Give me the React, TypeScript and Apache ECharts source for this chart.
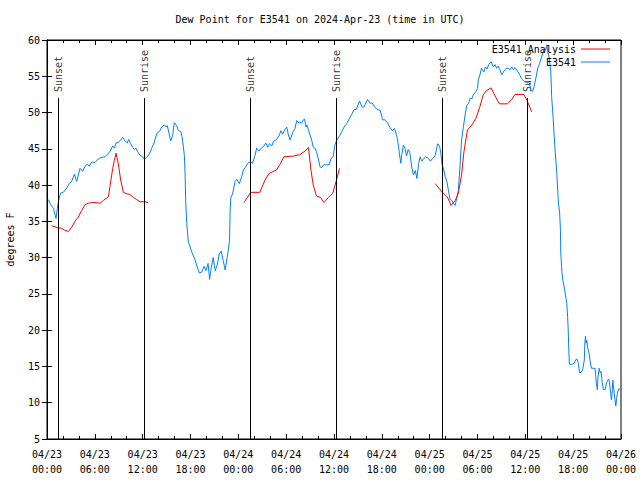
import React, { useEffect, useRef } from "react";
import * as echarts from "echarts";

const FONT = '"DejaVu Sans Mono", "Liberation Mono", monospace';

const titleText = "Dew Point for E3541 on 2024-Apr-23 (time in UTC)";
const xTickLabels = [
  "04/23\n00:00", "04/23\n06:00", "04/23\n12:00", "04/23\n18:00",
  "04/24\n00:00", "04/24\n06:00", "04/24\n12:00", "04/24\n18:00",
  "04/25\n00:00", "04/25\n06:00", "04/25\n12:00", "04/25\n18:00",
  "04/26\n00:00",
];

// hours since 2024-04-23 00:00 UTC
const obsHours = [
  0.16, 0.46, 0.8, 1.13, 1.3, 1.46, 1.7, 2.05, 2.47, 2.8, 3.1, 3.43, 3.72, 4.14, 4.48, 4.77, 5.06, 5.3, 5.6, 6.0,
  6.44, 6.73, 7.28, 7.7, 7.9, 8.24, 8.45, 8.66, 8.94, 9.24, 9.5, 9.78, 10.07, 10.24, 10.5, 10.75, 10.95, 11.16, 11.37, 11.67,
  12.0, 12.2, 12.5, 12.84, 13.14, 13.43, 13.76, 14.1, 14.4, 14.7, 14.94, 15.1, 15.35, 15.52, 15.77, 15.97, 16.26, 16.48, 16.77, 16.94,
  17.1, 17.23, 17.32, 17.4, 17.53, 17.73, 18.15, 18.57, 18.9, 19.1, 19.4, 19.7, 19.95, 20.2, 20.4, 20.6, 20.85, 21.1, 21.35, 21.6,
  21.85, 22.1, 22.35, 22.6, 22.75, 22.9, 22.96, 23.05, 23.3, 23.59, 23.8, 24.13, 24.43, 24.64, 24.97, 25.26, 25.5, 25.77, 26.1, 26.3,
  26.6, 26.9, 27.14, 27.44, 27.7, 27.9, 28.2, 28.4, 28.8, 29.15, 29.36, 29.56, 29.86, 30.07, 30.28, 30.5, 30.8, 31.1, 31.33, 31.5,
  31.7, 31.9, 32.16, 32.3, 32.5, 32.6, 32.8, 33.0, 33.2, 33.4, 33.6, 33.8, 34.04, 34.25, 34.46, 34.7, 35.1, 35.4, 35.64, 35.9,
  36.1, 36.35, 36.7, 37.0, 37.26, 37.6, 37.9, 38.2, 38.5, 38.8, 39.2, 39.5, 39.7, 39.9, 40.2, 40.5, 40.8, 41.1, 41.4, 41.8,
  42.1, 42.4, 42.7, 43.0, 43.3, 43.6, 43.95, 44.2, 44.38, 44.5, 44.7, 44.9, 45.1, 45.3, 45.5, 45.75, 45.96, 46.2, 46.4, 46.6,
  46.8, 47.0, 47.3, 47.5, 47.8, 48.1, 48.4, 48.7, 49.0, 49.24, 49.4, 49.56, 49.7, 49.94, 50.16, 50.35, 50.56, 50.78, 51.0, 51.2,
  51.4, 51.6, 51.8, 52.0, 52.24, 52.45, 52.66, 52.9, 53.07, 53.3, 53.5, 53.8, 54.0, 54.1, 54.3, 54.5, 54.8, 55.0, 55.2, 55.4,
  55.7, 56.0, 56.2, 56.4, 56.6, 56.8, 57.05, 57.3, 57.6, 57.9, 58.1, 58.3, 58.5, 58.7, 59.0, 59.3, 59.5, 59.85, 60.2, 60.5,
  60.7, 60.9, 61.1, 61.35, 61.55, 61.8, 62.0, 62.2, 62.35, 62.55, 62.7, 62.8, 63.0, 63.2, 63.3, 63.5, 63.7, 63.95, 64.15, 64.3,
  64.4, 64.45, 64.58, 64.7, 64.87, 65.0, 65.2, 65.3, 65.37, 65.46, 65.53, 65.8, 66.1, 66.37, 66.5, 66.65, 66.8, 67.0, 67.2, 67.4,
  67.46, 67.55, 67.6, 67.7, 67.83, 68.0, 68.2, 68.3, 68.6, 68.75, 68.9, 69.04, 69.1, 69.26, 69.4, 69.5, 69.64, 69.8, 70.0, 70.2,
  70.4, 70.5, 70.7, 70.8, 70.9, 70.97, 71.1, 71.25, 71.35, 71.45, 71.55, 71.7, 71.9,
];
const obsValues = [
  38.0, 37.3, 36.8, 35.4, 36.8, 37.9, 38.9, 39.0, 39.6, 40.2, 40.5, 41.5, 40.5, 42.3, 41.9, 42.6, 42.9, 42.6, 43.2, 43.1,
  43.6, 43.8, 43.9, 44.4, 44.6, 45.4, 45.1, 45.8, 45.9, 46.2, 46.6, 46.1, 45.8, 46.3, 45.7, 45.2, 44.9, 45.1, 44.6, 44.1,
  43.9, 43.6, 43.8, 44.3, 45.1, 45.8, 47.1, 47.4, 48.0, 48.3, 48.0, 48.2, 46.9, 46.1, 46.9, 48.6, 48.2, 47.5, 47.4, 46.7,
  45.3, 44.1, 41.6, 37.7, 34.7, 32.2, 30.8, 29.7, 28.5, 27.9, 28.0, 28.8, 28.2, 29.2, 27.0, 28.6, 30.0, 28.2, 29.0, 30.5,
  30.9, 29.6, 28.3, 30.0, 31.1, 32.4, 36.1, 38.2, 38.9, 40.5, 40.8, 40.2, 41.2, 42.1, 42.6, 43.1, 43.2, 43.0, 44.1, 45.1,
  44.7, 45.1, 45.3, 45.8, 45.2, 45.7, 45.4, 46.0, 46.3, 46.9, 47.5, 47.0, 47.7, 48.0, 46.9, 46.2, 47.2, 47.8, 48.9, 48.6,
  48.7, 48.5, 49.0, 49.1, 48.0, 48.3, 47.6, 46.9, 46.2, 45.2, 45.1, 44.6, 43.6, 42.5, 42.4, 42.8, 42.8, 42.8, 43.7, 43.9,
  45.5, 46.2, 46.8, 47.4, 48.0, 48.5, 49.1, 49.7, 50.4, 50.4, 51.6, 50.8, 50.7, 51.1, 51.8, 51.3, 51.3, 50.8, 50.4, 50.3,
  49.0, 49.0, 48.6, 48.0, 47.5, 47.8, 46.45, 44.4, 43.0, 44.2, 45.5, 45.1, 44.0, 44.9, 44.5, 42.5, 41.4, 42.0, 40.9, 42.8,
  43.9, 43.3, 43.7, 43.9, 43.7, 43.3, 43.7, 44.1, 45.7, 45.4, 44.4, 42.8, 42.4, 41.2, 40.5, 39.3, 38.0, 37.9, 37.4, 37.2,
  38.2, 39.3, 42.5, 46.2, 48.1, 49.7, 51.0, 51.3, 52.0, 51.9, 52.5, 52.9, 53.3, 54.5, 55.2, 56.1, 55.6, 56.3, 56.0, 56.6,
  57.0, 56.3, 56.6, 56.1, 56.4, 55.9, 55.2, 55.7, 56.1, 56.1, 55.9, 56.3, 55.9, 56.2, 55.7, 55.2, 54.7, 54.3, 54.1, 54.1,
  53.1, 52.9, 53.6, 54.9, 56.1, 56.8, 57.5, 58.2, 58.7, 58.6, 59.3, 58.4, 57.5, 55.6, 52.2, 49.0, 45.3, 41.6, 37.5, 36.3,
  33.8, 30.6, 28.1, 26.9, 26.0, 25.1, 23.7, 21.9, 20.3, 17.0, 15.3, 15.3, 15.4, 16.0, 16.0, 15.4, 14.15, 14.15, 14.6, 15.9,
  18.1, 19.2, 18.2, 18.6, 17.5, 16.8, 15.2, 14.75, 14.75, 14.75, 12.7, 11.8, 13.4, 14.75, 14.1, 14.3, 12.8, 11.8, 11.8, 12.8,
  13.2, 13.2, 11.3, 10.4, 11.5, 13.1, 11.8, 10.4, 9.55, 10.6, 11.3, 11.9, 11.9,
];

// analysis (null separates the three runs)
const anaHours = [
  0.59, 1.42, 1.8, 2.2, 2.67, 3.1, 3.5, 3.93, 4.35, 4.77, 5.2, 5.6, 6.0, 6.65, 7.1, 7.7, 7.9, 8.24, 8.45, 8.66,
  8.94, 9.24, 9.58, 10.0, 10.4, 10.85, 11.25, 11.67, 12.3, 12.7,
  18.0,
  24.72, 25.55, 26.1, 26.7, 27.35, 27.85, 28.8, 29.3, 29.7, 30.9, 31.7, 32.4, 32.8, 33.1, 33.4, 33.8, 34.3, 34.75, 35.3,
  35.85, 36.26, 36.7,
  42.0,
  48.7, 49.5, 50.2, 50.7, 51.2, 51.6, 52.0, 52.3, 52.74, 53.3, 53.8, 54.3, 54.7, 55.1, 55.7, 56.2, 56.75, 57.75, 58.3, 58.7,
  59.8, 60.2, 60.8,
];
const anaValues = [
  34.4, 34.1, 34.05, 33.8, 33.6, 34.2, 35.0, 35.6, 36.5, 37.3, 37.5, 37.6, 37.6, 37.5, 37.9, 38.4, 39.8, 42.3, 43.4, 44.4,
  43.0, 40.7, 39.0, 38.8, 38.7, 38.3, 38.0, 37.7, 37.7, 37.6,
  null,
  37.6, 39.0, 39.0, 39.0, 40.7, 41.6, 42.1, 43.0, 43.9, 44.0, 44.2, 44.7, 45.2, 42.1, 40.0, 38.5, 38.3, 37.6, 38.3,
  38.9, 40.5, 42.3,
  null,
  40.2, 39.1, 38.4, 37.2, 37.85, 38.9, 41.4, 44.6, 47.6, 48.3, 49.2, 50.8, 52.4, 53.0, 53.4, 52.3, 51.2, 51.2, 51.8, 52.5,
  52.5, 51.7, 50.1,
];

const sunHours = [1.38, 12.2, 25.5, 36.3, 49.6, 60.3];
const sunNames = ["Sunset", "Sunrise", "Sunset", "Sunrise", "Sunset", "Sunrise"];
const sunTop = 52;

const textBase = { fontFamily: FONT, fontSize: 10, color: "#000" };

export default function App() {
  const ref = useRef<HTMLDivElement>(null);
  useEffect(() => {
    const chart = echarts.init(ref.current!, null, { renderer: "svg" });
    const obsData = obsHours.map((t, i) => [t, obsValues[i]]);
    const anaData = anaHours.map((t, i) => [t, anaValues[i] === null ? "-" : anaValues[i]]);
    const xCommon = {
      type: "value",
      min: 0,
      max: 72,
      interval: 6,
      axisLine: { show: true, lineStyle: { color: "#000", width: 1 } },
      axisTick: { show: true, inside: true, length: 5, lineStyle: { color: "#000" } },
      minorTick: { show: true, splitNumber: 3, length: 3, lineStyle: { color: "#000" } },
      splitLine: { show: false },
      minorSplitLine: { show: false },
    };
    const yCommon = {
      type: "value",
      min: 5,
      max: 60,
      interval: 5,
      axisLine: { show: true, lineStyle: { color: "#000", width: 1 } },
      axisTick: { show: true, inside: true, length: 5, lineStyle: { color: "#000" } },
      splitLine: { show: false },
    };
    chart.setOption({
      animation: false,
      backgroundColor: "#fff",
      title: {
        text: titleText,
        left: "center",
        top: 14,
        padding: 0,
        textStyle: { ...textBase, fontWeight: "normal" },
      },
      legend: {
        data: ["E3541 Analysis", "E3541"],
        orient: "vertical",
        align: "right",
        right: 30,
        top: 43,
        padding: 0,
        icon: "rect",
        itemWidth: 29,
        itemHeight: 1,
        itemGap: 1,
        textStyle: { ...textBase, lineHeight: 12 },
      },
      grid: {
        left: 47,
        right: 19,
        top: 40,
        bottom: 41,
        outerBoundsMode: "none",
        containLabel: false,
        show: true,
        borderColor: "#000",
        borderWidth: 1,
        backgroundColor: "transparent",
      },
      xAxis: [
        {
          ...xCommon,
          position: "bottom",
          axisLabel: {
            ...textBase,
            margin: 8,
            lineHeight: 15,
            formatter: (v: number) => xTickLabels[Math.round(v / 6)] ?? "",
          },
        },
        { ...xCommon, position: "top", axisLabel: { show: false } },
      ],
      yAxis: [
        {
          ...yCommon,
          position: "left",
          name: "degrees F",
          nameLocation: "middle",
          nameGap: 32,
          nameTextStyle: { ...textBase },
          axisLabel: { ...textBase, margin: 7 },
        },
        { ...yCommon, position: "right", axisLabel: { show: false } },
      ],
      series: [
        {
          name: "E3541",
          type: "line",
          data: obsData,
          symbol: "none",
          lineStyle: { color: "#0080ff", width: 1 },
          itemStyle: { color: "#0080ff" },
          z: 3,
        },
        {
          name: "E3541 Analysis",
          type: "line",
          data: anaData,
          symbol: "none",
          connectNulls: false,
          lineStyle: { color: "#ff0000", width: 1 },
          itemStyle: { color: "#ff0000" },
          z: 4,
        },
        {
          name: "sun",
          type: "scatter",
          symbolSize: 0,
          silent: true,
          data: sunHours.map((t, i) => ({ value: [t, sunTop], name: sunNames[i] })),
          label: {
            show: true,
            formatter: "{b}",
            position: "top",
            distance: 6,
            rotate: 90,
            align: "left",
            verticalAlign: "middle",
            ...textBase,
          },
          markLine: {
            silent: true,
            symbol: ["none", "none"],
            label: { show: false },
            lineStyle: { color: "#000", width: 1, type: "solid" },
            emphasis: { disabled: true },
            data: sunHours.map((t) => [{ coord: [t, sunTop] }, { coord: [t, 5] }]),
          },
          z: 2,
        },
      ],
    });
    return () => chart.dispose();
  }, []);
  return (
    <div
      ref={ref}
      style={{ position: "absolute", left: 0, top: 0, width: 640, height: 480 }}
    />
  );
}
